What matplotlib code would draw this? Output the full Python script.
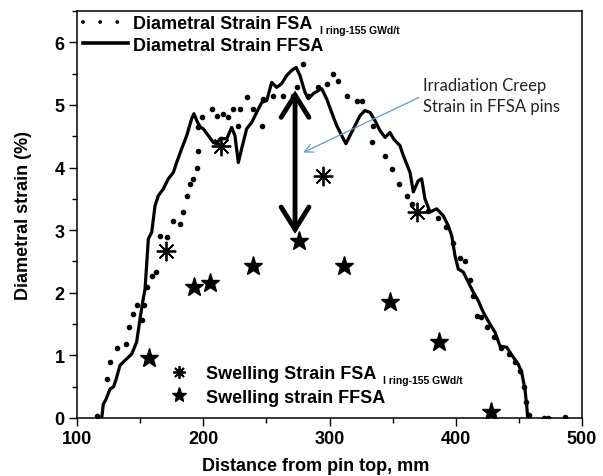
import matplotlib
matplotlib.use('Agg')
import matplotlib.pyplot as plt
from matplotlib.lines import Line2D
from matplotlib.ticker import MultipleLocator

# ---- data ----
ffsa_x = [119.6, 120.8, 123.0, 126.1, 129.0, 131.0, 134.0, 138.0, 143.3, 147.2, 149.9, 152.0,
          153.9, 155.1, 156.5, 159.2, 161.8, 164.4, 168.4, 172.3, 176.3, 178.9, 182.9, 186.9,
          190.8, 192.6, 195.5, 198.0, 200.0, 204.0, 208.0, 210.6, 213.3, 218.6, 222.5, 225.1,
          227.8, 230.4, 234.4, 238.4, 242.3, 246.3, 250.3, 254.2, 258.1, 262.1, 266.1, 270.0,
          273.5, 276.6, 280.6, 283.2, 287.2, 291.1, 293.8, 297.7, 301.7, 305.7, 309.7, 313.0,
          316.2, 320.2, 324.2, 328.1, 332.1, 336.0, 340.0, 344.0, 347.9, 351.0, 355.8, 358.5,
          363.8, 366.4, 370.3, 373.0, 375.6, 379.6, 384.9, 390.1, 394.1, 396.8, 399.4, 402.0,
          406.0, 409.9, 413.9, 417.9, 421.8, 427.1, 431.1, 435.0, 440.3, 445.6, 449.5, 452.2,
          454.8, 456.2, 457.0]
ffsa_y = [0.00, 0.22, 0.30, 0.46, 0.50, 0.62, 0.84, 0.92, 1.02, 1.21, 1.58, 1.85,
          2.06, 2.43, 2.86, 2.97, 3.39, 3.55, 3.66, 3.82, 3.92, 4.08, 4.30, 4.51,
          4.78, 4.86, 4.72, 4.64, 4.62, 4.51, 4.40, 4.38, 4.46, 4.46, 4.64, 4.51,
          4.08, 4.30, 4.62, 4.72, 4.88, 5.04, 5.07, 5.36, 5.28, 5.34, 5.47, 5.55,
          5.60, 5.47, 5.20, 5.10, 5.18, 5.23, 5.26, 5.10, 4.88, 4.67, 4.51, 4.38,
          4.51, 4.67, 4.83, 4.91, 4.88, 4.75, 4.59, 4.48, 4.56, 4.45, 4.35, 4.19,
          3.92, 3.61, 3.79, 3.82, 3.50, 3.29, 3.34, 3.23, 3.07, 2.91, 2.59, 2.38,
          2.33, 2.17, 2.01, 1.87, 1.69, 1.50, 1.37, 1.15, 1.13, 0.97, 0.86, 0.73,
          0.46, 0.20, 0.00]

fsa_x = [115.6, 123.5, 126.1, 131.4, 138.8, 141.2, 144.1, 147.3, 151.2, 153.3, 155.7, 159.2,
         162.6, 166.0, 171.0, 176.3, 181.6, 184.2, 186.9, 189.5, 192.1, 194.8, 195.6, 196.1,
         198.8, 206.7, 210.6, 215.9, 219.8, 223.8, 227.8, 229.1, 234.4, 239.7, 246.3, 247.6,
         255.5, 263.5, 271.3, 274.0, 279.2, 283.2, 291.1, 297.8, 303.0, 307.0, 313.6, 321.5,
         326.0, 333.4, 334.7, 344.0, 349.3, 355.4, 361.4, 365.0, 378.0, 386.0, 392.0, 398.0,
         403.0, 407.3, 411.0, 414.0, 416.6, 420.0, 425.0, 430.0, 436.0, 442.0, 447.0, 451.0,
         454.0, 456.0, 458.0, 470.0, 473.0, 486.6]
fsa_y = [0.03, 0.62, 0.89, 1.11, 1.18, 1.46, 1.66, 1.80, 1.57, 1.81, 2.09, 2.26,
         2.33, 2.90, 2.89, 3.15, 3.10, 3.29, 3.55, 3.74, 3.82, 4.00, 4.27, 4.64,
         4.80, 4.94, 4.83, 4.86, 4.80, 4.94, 4.67, 4.94, 5.12, 4.94, 4.67, 5.10,
         5.15, 5.15, 5.15, 5.28, 5.65, 5.15, 5.28, 5.34, 5.50, 5.39, 5.15, 5.07,
         5.07, 4.40, 4.67, 4.19, 3.98, 3.74, 3.55, 3.42, 3.30, 3.20, 3.05, 2.80,
         2.55, 2.51, 2.20, 1.95, 1.63, 1.62, 1.45, 1.30, 1.12, 1.02, 0.90, 0.75,
         0.50, 0.25, 0.05, 0.00, 0.00, 0.02]

swell_fsa_x = [170.2, 213.8, 294.6, 369.0]
swell_fsa_y = [2.67, 4.34, 3.87, 3.29]
swell_ffsa_x = [157.0, 192.7, 205.3, 239.7, 276.0, 311.7, 348.0, 387.0, 427.7]
swell_ffsa_y = [0.96, 2.09, 2.16, 2.43, 2.83, 2.42, 1.85, 1.22, 0.09]

x_ticks = [100, 200, 300, 400, 500]
y_ticks = [0, 1, 2, 3, 4, 5, 6]

label_fsa = 'Diametral Strain FSA'
label_ffsa = 'Diametral Strain FFSA'
label_sw_fsa = 'Swelling Strain FSA'
label_sw_ffsa = 'Swelling strain FFSA'
sub_label = 'I ring-155 GWd/t'
note = 'Irradiation Creep\nStrain in FFSA pins'

# ---- style ----
plt.rcParams['font.family'] = ['Liberation Sans', 'DejaVu Sans']
plt.rcParams['font.weight'] = 'bold'
plt.rcParams['axes.labelweight'] = 'bold'

fig = plt.figure(figsize=(6.03, 4.77), dpi=100, facecolor='white')
ax = fig.add_axes([77 / 603, 1 - 419 / 477, 505 / 603, 407 / 477])

ax.plot(ffsa_x, ffsa_y, color='black', lw=2.3, solid_joinstyle='round', zorder=3)
ax.plot(fsa_x, fsa_y, ls='none', marker='o', ms=3.0, color='black', zorder=3)
ax.plot(swell_fsa_x, swell_fsa_y, ls='none', marker=(8, 2, 0), ms=14, mew=1.3,
        color='black', zorder=4)
ax.plot(swell_ffsa_x, swell_ffsa_y, ls='none', marker='*', ms=14, color='black', zorder=4)

ax.set_xlim(100, 500)
ax.set_ylim(0, 6.5)
ax.set_xticks(x_ticks)
ax.set_yticks(y_ticks)
ax.xaxis.set_minor_locator(MultipleLocator(50))
ax.yaxis.set_minor_locator(MultipleLocator(0.5))
ax.tick_params(which='major', direction='out', length=6, width=1.0, labelsize=13, pad=3)
ax.tick_params(which='minor', direction='out', length=3.5, width=1.0)
for s in ax.spines.values():
    s.set_linewidth(1.1)

ax.set_xlabel('Distance from pin top, mm', fontsize=13, va='center')
ax.xaxis.set_label_coords(0.472, -0.117)
ax.set_ylabel('Diametral strain (%)', fontsize=13, va='center')
ax.yaxis.set_label_coords(-0.106, 0.5)

# ---- legends ----
h1 = [Line2D([], [], color='black', lw=2.8, dashes=(0.01, 4.4), dash_capstyle='round'),
      Line2D([], [], color='black', lw=2.6)]
leg1 = ax.legend(h1, [label_fsa, label_ffsa], loc='upper left',
                 bbox_to_anchor=(0.012, 0.99), frameon=False, fontsize=13,
                 handlelength=2.5, handletextpad=0.28, borderpad=0, borderaxespad=0,
                 labelspacing=0.25)
ax.add_artist(leg1)

h2 = [Line2D([], [], ls='none', marker=(8, 2, 0), ms=9, mew=1.3, color='black'),
      Line2D([], [], ls='none', marker='*', ms=11, color='black')]
leg2 = ax.legend(h2, [label_sw_fsa, label_sw_ffsa], loc='upper left',
                 bbox_to_anchor=(0.175, 0.1295), frameon=False, fontsize=13,
                 handlelength=1.5, handletextpad=0.75, borderpad=0, borderaxespad=0,
                 labelspacing=0.35)

for t in (leg1.get_texts()[0], leg2.get_texts()[0]):
    ax.annotate(sub_label, xy=(1.0, 0.12), xycoords=t, xytext=(5, 0),
                textcoords='offset points', fontsize=7.5, fontweight='bold',
                ha='left', va='center', zorder=10)

# ---- annotations ----
ax.annotate(note, xy=(279.2, 4.24), xytext=(374, 5.15), fontsize=12,
            fontweight='normal', family=['Lato', 'DejaVu Sans'], color='#222222',
            ha='left', va='center', linespacing=1.38,
            arrowprops=dict(arrowstyle='->,head_length=0.5,head_width=0.25',
                            color='#5B9BD5', lw=0.9, relpos=(0, 0.5),
                            shrinkA=1, shrinkB=0))

ax.annotate('', xy=(272.7, 2.94), xytext=(272.7, 5.23),
            arrowprops=dict(arrowstyle='<->,head_length=1.6,head_width=1.0',
                            color='black', lw=3.5, mutation_scale=10,
                            shrinkA=0, shrinkB=0, joinstyle='miter'))

fig.savefig('out.png', dpi=100, facecolor='white')
